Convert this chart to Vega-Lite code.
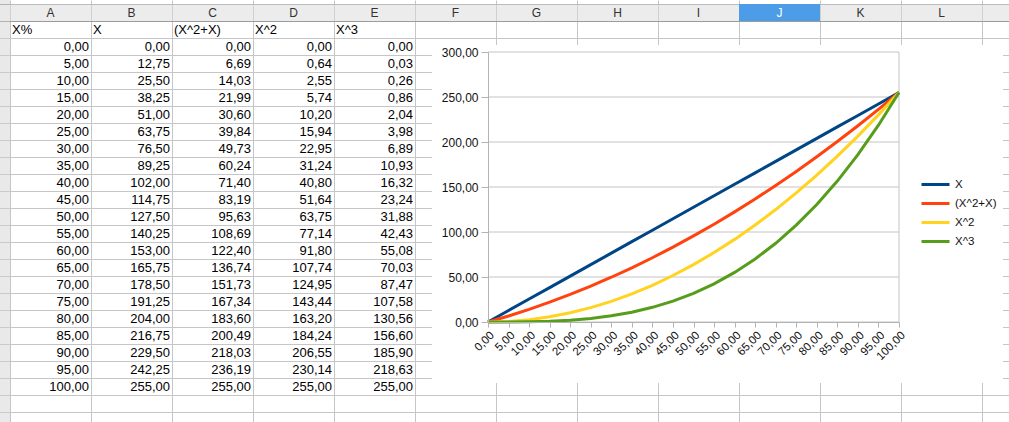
{
 "$schema": "https://vega.github.io/schema/vega-lite/v6.json",
 "width": 1009, "height": 422,
 "autosize": {"type": "none"},
 "padding": 0,
 "background": "white",
 "config": {
   "locale": {"number": {"decimal": ",", "thousands": ".", "grouping": [3], "currency": ["", " €"]}},
   "font": "Liberation Sans",
   "view": {"stroke": null}
 },
 "datasets": {
   "t": [
     {"X%": 0, "X": 0, "(X^2+X)": 0, "X^2": 0, "X^3": 0},
     {"X%": 5, "X": 12.75, "(X^2+X)": 6.69, "X^2": 0.64, "X^3": 0.03},
     {"X%": 10, "X": 25.5, "(X^2+X)": 14.03, "X^2": 2.55, "X^3": 0.26},
     {"X%": 15, "X": 38.25, "(X^2+X)": 21.99, "X^2": 5.74, "X^3": 0.86},
     {"X%": 20, "X": 51, "(X^2+X)": 30.6, "X^2": 10.2, "X^3": 2.04},
     {"X%": 25, "X": 63.75, "(X^2+X)": 39.84, "X^2": 15.94, "X^3": 3.98},
     {"X%": 30, "X": 76.5, "(X^2+X)": 49.73, "X^2": 22.95, "X^3": 6.89},
     {"X%": 35, "X": 89.25, "(X^2+X)": 60.24, "X^2": 31.24, "X^3": 10.93},
     {"X%": 40, "X": 102, "(X^2+X)": 71.4, "X^2": 40.8, "X^3": 16.32},
     {"X%": 45, "X": 114.75, "(X^2+X)": 83.19, "X^2": 51.64, "X^3": 23.24},
     {"X%": 50, "X": 127.5, "(X^2+X)": 95.63, "X^2": 63.75, "X^3": 31.88},
     {"X%": 55, "X": 140.25, "(X^2+X)": 108.69, "X^2": 77.14, "X^3": 42.43},
     {"X%": 60, "X": 153, "(X^2+X)": 122.4, "X^2": 91.8, "X^3": 55.08},
     {"X%": 65, "X": 165.75, "(X^2+X)": 136.74, "X^2": 107.74, "X^3": 70.03},
     {"X%": 70, "X": 178.5, "(X^2+X)": 151.73, "X^2": 124.95, "X^3": 87.47},
     {"X%": 75, "X": 191.25, "(X^2+X)": 167.34, "X^2": 143.44, "X^3": 107.58},
     {"X%": 80, "X": 204, "(X^2+X)": 183.6, "X^2": 163.2, "X^3": 130.56},
     {"X%": 85, "X": 216.75, "(X^2+X)": 200.49, "X^2": 184.24, "X^3": 156.6},
     {"X%": 90, "X": 229.5, "(X^2+X)": 218.03, "X^2": 206.55, "X^3": 185.9},
     {"X%": 95, "X": 242.25, "(X^2+X)": 236.19, "X^2": 230.14, "X^3": 218.63},
     {"X%": 100, "X": 255, "(X^2+X)": 255, "X^2": 255, "X^3": 255}
   ],
   "cols": [
     {"key": "X%", "letter": "A"}, {"key": "X", "letter": "B"}, {"key": "(X^2+X)", "letter": "C"},
     {"key": "X^2", "letter": "D"}, {"key": "X^3", "letter": "E"}, {"key": "F", "letter": "F"},
     {"key": "G", "letter": "G"}, {"key": "H", "letter": "H"}, {"key": "I", "letter": "I"},
     {"key": "J", "letter": "J"}, {"key": "K", "letter": "K"}, {"key": "L", "letter": "L"},
     {"key": "M", "letter": "M"}
   ],
   "heads": [{"key": "X%"}, {"key": "X"}, {"key": "(X^2+X)"}, {"key": "X^2"}, {"key": "X^3"}],
   "yticks": [{"v": 0}, {"v": 50}, {"v": 100}, {"v": 150}, {"v": 200}, {"v": 250}, {"v": 300}],
   "one": [{}]
 },
 "resolve": {
   "scale": {"x": "independent", "y": "independent", "color": "independent"},
   "axis": {"x": "independent", "y": "independent"}
 },
 "layer": [
  {
   "layer": [
    {
     "data": {"name": "one"},
     "mark": {"type": "rect", "fill": "#cfcfcf", "fillOpacity": 0.45},
     "encoding": {
       "x": {"datum": "#", "type": "nominal",
         "scale": {"type": "band", "domain": ["#", "X%", "X", "(X^2+X)", "X^2", "X^3", "F", "G", "H", "I", "J", "K", "L", "M"], "range": [-71, 1063], "paddingInner": 0, "paddingOuter": 0},
         "axis": {"orient": "top", "grid": true, "bandPosition": 0, "labels": false, "ticks": false, "domain": false, "title": null, "gridColor": "#c6c6c6", "zindex": 0}},
       "y": {"datum": -13.6764705882, "type": "quantitative",
         "scale": {"type": "linear", "domain": [-13.6764705882, 110.4411764706], "reverse": true, "nice": false, "zero": false},
         "axis": {"orient": "right", "grid": true, "tickCount": 100, "values": [-12.5, -7.5, -2.5, 2.5, 7.5, 12.5, 17.5, 22.5, 27.5, 32.5, 37.5, 42.5, 47.5, 52.5, 57.5, 62.5, 67.5, 72.5, 77.5, 82.5, 87.5, 92.5, 97.5, 102.5, 107.5],
           "labels": false, "ticks": false, "domain": false, "title": null, "zindex": 0,
           "gridColor": {"condition": {"test": "datum.value < -5", "value": "#9c9c9c"}, "value": "#c6c6c6"}}},
       "y2": {"datum": 110.4411764706}
     }
    },
    {
     "data": {"name": "cols"},
     "mark": {"type": "rect"},
     "encoding": {
       "x": {"field": "key", "type": "nominal"},
       "y": {"datum": -12.5, "type": "quantitative"},
       "y2": {"datum": -7.5},
       "fill": {"condition": {"test": "datum.letter === 'J'", "value": "#4c9ce8"}, "value": "#d9d9d9"},
       "fillOpacity": {"condition": {"test": "datum.letter === 'J'", "value": 1}, "value": 0.5}
     }
    },
    {
     "data": {"name": "cols"},
     "transform": [{"filter": "datum.letter !== 'M'"}],
     "mark": {"type": "text", "fontSize": 12, "baseline": "middle", "align": "center"},
     "encoding": {
       "x": {"field": "key", "type": "nominal"},
       "y": {"datum": -10, "type": "quantitative"},
       "text": {"field": "letter"},
       "color": {"condition": {"test": "datum.letter === 'J'", "value": "#ffffff"}, "value": "#333333"}
     }
    },
    {
     "data": {"name": "heads"},
     "mark": {"type": "text", "fontSize": 13, "baseline": "middle", "align": "left", "dx": 2, "color": "#000000"},
     "encoding": {
       "x": {"field": "key", "type": "nominal", "bandPosition": 0},
       "y": {"datum": -5, "type": "quantitative"},
       "text": {"field": "key"}
     }
    },
    {
     "data": {"name": "t"},
     "transform": [{"fold": ["X%", "X", "(X^2+X)", "X^2", "X^3"], "as": ["key", "value"]}],
     "mark": {"type": "text", "fontSize": 13, "baseline": "middle", "align": "right", "dx": -2, "color": "#000000"},
     "encoding": {
       "x": {"field": "key", "type": "nominal", "bandPosition": 1},
       "y": {"field": "X%", "type": "quantitative"},
       "text": {"field": "value", "type": "quantitative", "format": ".2f"}
     }
    }
   ]
  },
  {
   "layer": [
    {
     "data": {"name": "one"},
     "mark": {"type": "rect", "fill": "#ffffff"},
     "encoding": {
       "x": {"datum": -13.63, "type": "quantitative",
         "scale": {"type": "linear", "domain": [0, 100], "range": [488, 899], "nice": false, "zero": false},
         "axis": {"orient": "bottom", "offset": -100, "tickCount": 100, "values": [0, 5, 10, 15, 20, 25, 30, 35, 40, 45, 50, 55, 60, 65, 70, 75, 80, 85, 90, 95, 100],
           "format": ".2f", "labelAngle": -45, "labelOverlap": false, "grid": false, "tickSize": 5, "domainColor": "#b3b3b3", "tickColor": "#b3b3b3",
           "labelColor": "#111111", "labelFontSize": 11.5, "labelFont": "Liberation Sans", "title": null, "zindex": 1, "labelPadding": 2}},
       "x2": {"datum": 125.3},
       "y": {"datum": 307.8, "type": "quantitative",
         "scale": {"type": "linear", "domain": [0, 300], "range": [322, 52], "nice": false, "zero": false},
         "axis": {"orient": "left", "offset": -488, "tickCount": 100, "values": [0, 50, 100, 150, 200, 250, 300],
           "format": ".2f", "grid": false, "tickSize": 7, "domainColor": "#b3b3b3", "tickColor": "#b3b3b3", "labelOverlap": false,
           "labelColor": "#111111", "labelFontSize": 12, "labelFont": "Liberation Sans", "title": null, "zindex": 1, "labelPadding": 3}},
       "y2": {"datum": -67.8}
     }
    },
    {
     "data": {"name": "yticks"},
     "mark": {"type": "rule", "color": "#c4c4c4", "strokeWidth": 1},
     "encoding": {
       "x": {"datum": 0, "type": "quantitative"},
       "x2": {"datum": 100},
       "y": {"field": "v", "type": "quantitative", "title": null}
     }
    },
    {
     "data": {"name": "one"},
     "mark": {"type": "rule", "color": "#c4c4c4", "strokeWidth": 1},
     "encoding": {
       "x": {"datum": 100, "type": "quantitative"},
       "y": {"datum": 0, "type": "quantitative"},
       "y2": {"datum": 300}
     }
    },
    {
     "data": {"name": "t"},
     "transform": [{"fold": ["X", "(X^2+X)", "X^2", "X^3"], "as": ["series", "val"]}],
     "mark": {"type": "line", "strokeWidth": 3},
     "encoding": {
       "x": {"field": "X%", "type": "quantitative", "title": null},
       "y": {"field": "val", "type": "quantitative", "title": null},
       "color": {"field": "series", "type": "nominal",
         "scale": {"domain": ["X", "(X^2+X)", "X^2", "X^3"], "range": ["#004586", "#ff420e", "#ffd320", "#579d1c"]},
         "legend": {"orient": "none", "legendX": 920, "legendY": 175, "title": null, "symbolType": "stroke", "symbolSize": 784,
           "symbolStrokeWidth": 3, "labelFontSize": 11.5, "labelFont": "Liberation Sans", "labelColor": "#111111", "rowPadding": 0, "clipHeight": 19, "labelOffset": 4, "zindex": 1}}
     }
    }
   ]
  }
 ]
}
